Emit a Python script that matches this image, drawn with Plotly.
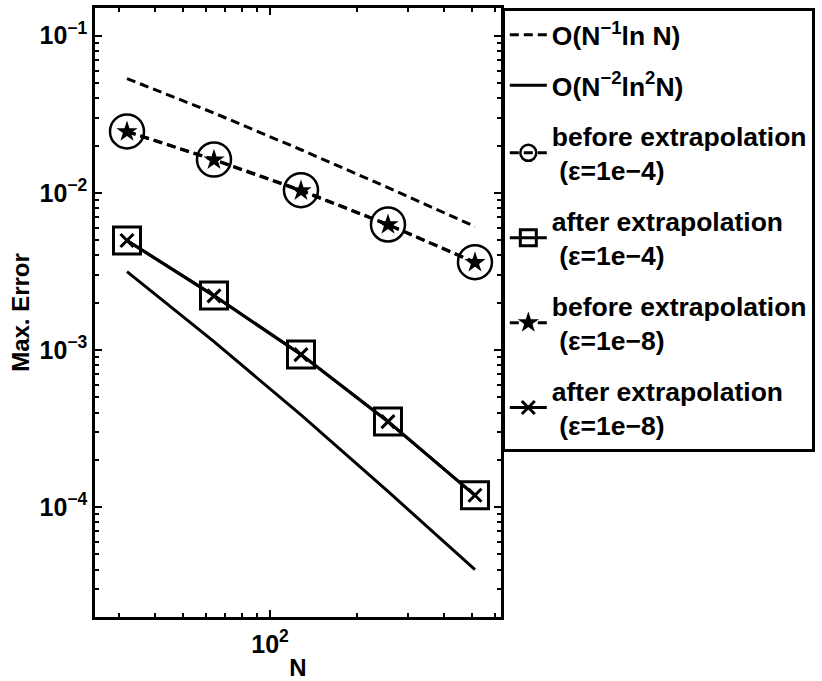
import numpy as np
import plotly.graph_objects as go

# Mesh sizes
N = [32, 64, 128, 256, 512]

# Reference convergence rates
rate_first = [0.0533, 0.0322, 0.0188, 0.0108, 0.0061]      # O(N^-1 ln N)
rate_second = [3.15e-3, 1.13e-3, 3.86e-4, 1.26e-4, 4.0e-5]  # O(N^-2 ln^2 N)

# Maximum pointwise errors
before_eps4 = [0.0246, 0.0163, 0.0104, 0.00629, 0.00362]
after_eps4 = [4.98e-3, 2.22e-3, 9.37e-4, 3.51e-4, 1.19e-4]
before_eps8 = [0.0245, 0.0162, 0.0103, 0.00626, 0.00360]
after_eps8 = [4.97e-3, 2.21e-3, 9.35e-4, 3.50e-4, 1.19e-4]

# Axis ticks
x_major = [100]
x_major_text = ["10<sup>2</sup>"]
x_minor = [30, 40, 50, 60, 70, 80, 90, 200, 300, 400, 500, 600]
y_major = [1e-4, 1e-3, 1e-2, 1e-1]
y_major_text = ["10<sup>\u22124</sup>", "10<sup>\u22123</sup>", "10<sup>\u22122</sup>", "10<sup>\u22121</sup>"]
y_minor = [m * 10.0 ** e for e in (-5, -4, -3, -2) for m in range(2, 10)]

FONT = "Liberation Sans, Arial, sans-serif"
DASH = "9px,5px"
LW = 3

fig = go.Figure()

fig.add_trace(go.Scatter(
    x=N, y=rate_first, mode="lines", name="O(N<sup>\u22121</sup>ln N)",
    line=dict(color="black", width=LW, dash=DASH), legendgroup="a"))
fig.add_trace(go.Scatter(
    x=N, y=rate_second, mode="lines", name="O(N<sup>\u22122</sup>ln<sup>2</sup>N)",
    line=dict(color="black", width=LW), legendgroup="b"))
fig.add_trace(go.Scatter(
    x=N, y=before_eps4, mode="lines+markers",
    name="before extrapolation<br>\u00a0(\u03b5=1e\u22124)",
    line=dict(color="black", width=LW, dash=DASH),
    marker=dict(symbol="circle-open", size=34, color="black", line=dict(width=2.5, color="black")),
    legendgroup="c"))
fig.add_trace(go.Scatter(
    x=N, y=after_eps4, mode="lines+markers",
    name="after extrapolation<br>\u00a0(\u03b5=1e\u22124)",
    line=dict(color="black", width=LW),
    marker=dict(symbol="square-open", size=27, color="black", line=dict(width=3, color="black")),
    legendgroup="d"))
fig.add_trace(go.Scatter(
    x=N, y=before_eps8, mode="lines+markers",
    name="before extrapolation<br>\u00a0(\u03b5=1e\u22128)",
    line=dict(color="black", width=LW, dash=DASH),
    marker=dict(symbol="star", size=16, color="black", line=dict(width=0)),
    legendgroup="e"))
fig.add_trace(go.Scatter(
    x=N, y=after_eps8, mode="lines+markers",
    name="after extrapolation<br>\u00a0(\u03b5=1e\u22128)",
    line=dict(color="black", width=LW),
    marker=dict(symbol="x-thin-open", size=13, color="black", line=dict(width=3, color="black")),
    legendgroup="f"))

axis_common = dict(
    type="log", showgrid=False, zeroline=False, automargin=False,
    showline=True, linecolor="black", linewidth=2.5, mirror="ticks",
    ticks="inside", ticklen=7, tickwidth=1.5, tickcolor="black",
    tickfont=dict(family=FONT, size=25, color="black", weight="bold"),
)

fig.update_xaxes(
    **axis_common,
    range=[np.log10(24.8), np.log10(630)],
    tickmode="array", tickvals=x_major, ticktext=x_major_text,
    ticklabelstandoff=3,
    minor=dict(tickmode="array", tickvals=x_minor, ticks="inside", ticklen=4,
               tickwidth=1.5, tickcolor="black", showgrid=False),
    title=dict(text="N", font=dict(family=FONT, size=24, color="black", weight="bold"), standoff=4),
)
fig.update_yaxes(
    **axis_common,
    range=[np.log10(2e-5), np.log10(0.15)],
    tickmode="array", tickvals=y_major, ticktext=y_major_text,
    minor=dict(tickmode="array", tickvals=y_minor, ticks="inside", ticklen=4,
               tickwidth=1.5, tickcolor="black", showgrid=False),
    title=dict(text="Max. Error", font=dict(family=FONT, size=24, color="black", weight="bold"), standoff=4),
)

fig.update_layout(
    width=822, height=681,
    margin=dict(l=95, r=321, t=8, b=64, autoexpand=False),
    plot_bgcolor="white", paper_bgcolor="white",
    font=dict(family=FONT, color="black"),
    showlegend=True,
    legend=dict(
        x=1.002, y=1, xanchor="left", yanchor="top",
        bgcolor="white", bordercolor="black", borderwidth=3,
        font=dict(family=FONT, size=26.5, color="black", weight="bold"),
        tracegroupgap=13, itemwidth=37,
    ),
)

fig.write_html("out.html")
